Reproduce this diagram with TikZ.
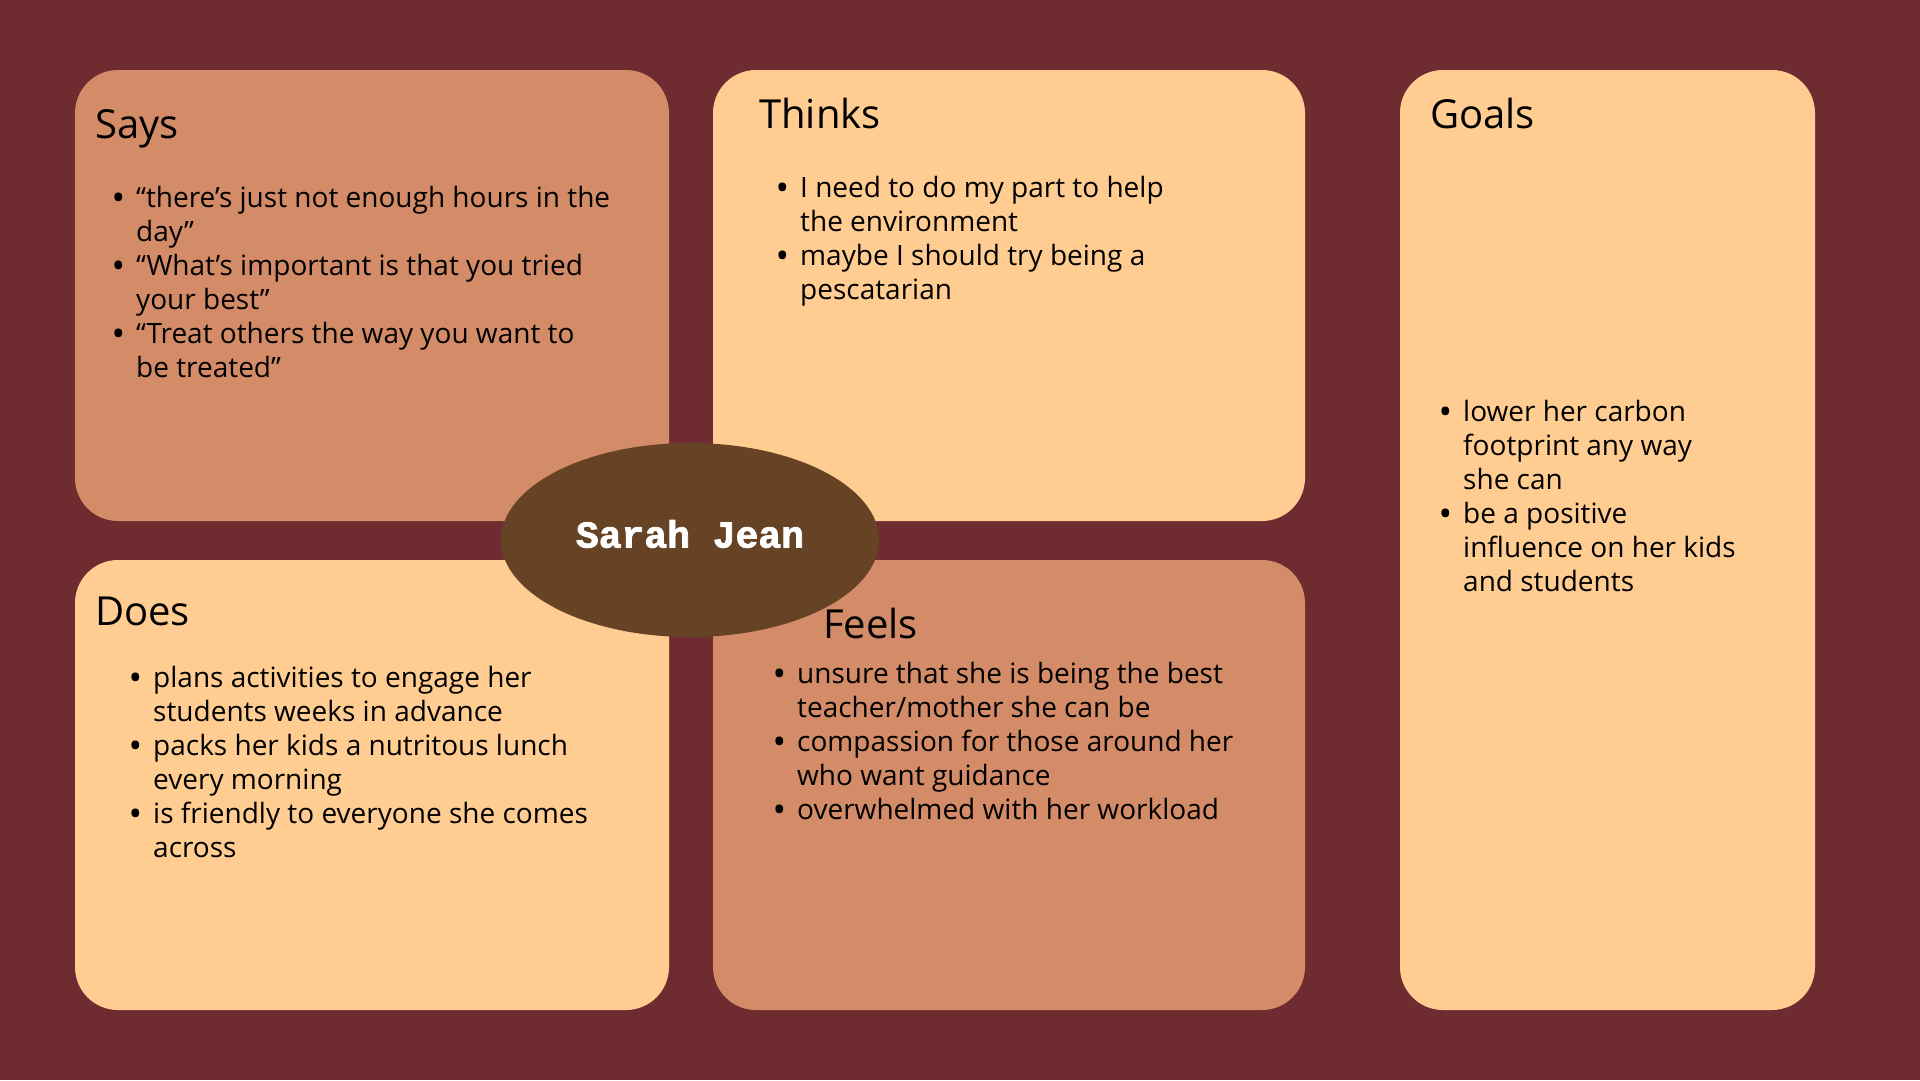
\documentclass[tikz,border=0pt]{standalone}
\usepackage{fontspec}
\setmainfont{Open Sans}
\newfontfamily\namefont[BoldFeatures={FakeBold=2}]{Liberation Mono}
\usetikzlibrary{shapes.geometric,positioning}
\definecolor{maroon}{HTML}{6E2C30}
\definecolor{terra}{HTML}{D38C67}
\definecolor{peach}{HTML}{FFCC91}
\definecolor{brownish}{HTML}{654324}
\newcommand{\bul}{\llap{\raisebox{-3pt}{\fontsize{36}{34}\selectfont•}\hspace{11pt}}}
\tikzset{
  card/.style={rectangle,rounded corners=43pt,draw=none,inner sep=0pt},
  heading/.style={anchor=base west,inner sep=0pt,font=\fontsize{40}{44}\selectfont},
  items/.style={anchor=base west,inner sep=0pt,align=left,font=\fontsize{28}{34}\selectfont}
}

\begin{document}
\begin{tikzpicture}[x=1pt,y=-1pt]
  \fill[maroon] (0,0) rectangle (1920,1080);
  \useasboundingbox (0,0) rectangle (1920,1080);

  % the five cards
  \node[card,fill=terra,minimum width=594pt,minimum height=451pt] (says) at (372,295.5) {};
  \node[card,fill=peach,minimum width=592pt,minimum height=451pt] (thinks) at (1009,295.5) {};
  \node[card,fill=peach,minimum width=415pt,minimum height=940pt] (goals) at (1607.5,540) {};
  \node[card,fill=peach,minimum width=594pt,minimum height=450pt] (does) at (372,785) {};
  \node[card,fill=terra,minimum width=592pt,minimum height=450pt] (feels) at (1009,785) {};

  % headings
  \node[heading] (saysT) at (95,138) {Says};
  \node[heading] (thinksT) at (759,128) {Thinks};
  \node[heading] (goalsT) at (1430,128) {Goals};
  \node[heading] (doesT) at (95,625) {Does};

  % lists (base = last line)
  \node[items] (saysL) at (136,377.5) {\bul“there’s just not enough hours in the\\
    day”\\
    \bul“What’s important is that you tried\\
    your best”\\
    \bul“Treat others the way you want to\\
    be treated”};
  \node[items] (thinksL) at (800,299.5) {\bul I need to do my part to help\\
    the environment\\
    \bul maybe I should try being a\\
    pescatarian};
  \node[items] (goalsL) at (1463,591.5) {\bul lower her carbon\\
    footprint any way\\
    she can\\
    \bul be a positive\\
    influence on her kids\\
    and students};
  \node[items] (doesL) at (153,857.5) {\bul plans activities to engage her\\
    students weeks in advance\\
    \bul packs her kids a nutritous lunch\\
    every morning\\
    \bul is friendly to everyone she comes\\
    across};
  \node[items] (feelsL) at (797,819.5) {\bul unsure that she is being the best\\
    teacher/mother she can be\\
    \bul compassion for those around her\\
    who want guidance\\
    \bul overwhelmed with her workload};

  % centre
  \node[ellipse,fill=brownish,minimum width=378pt,minimum height=194pt,inner sep=0pt] (persona) at (690,540) {};
  \node[text=white,font=\namefont\bfseries\fontsize{38}{40}\selectfont] (name) at (persona.center) [yshift=6pt] {Sarah Jean};
  \node[heading] (feelsT) at (823,638) {Feels};
\end{tikzpicture}
\end{document}
